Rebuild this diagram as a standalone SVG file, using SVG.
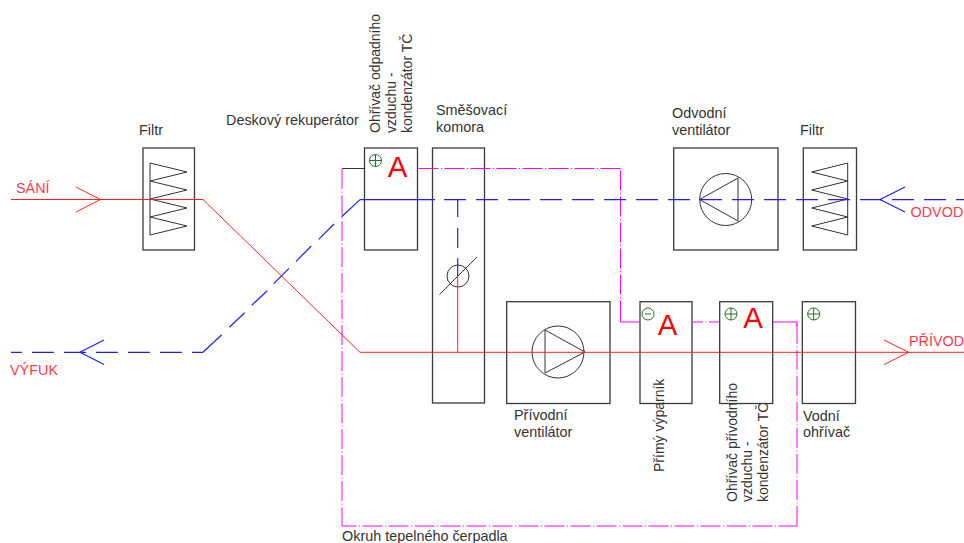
<svg xmlns="http://www.w3.org/2000/svg" width="964" height="543" viewBox="0 0 964 543">
<defs>
<style>
text{font-family:"Liberation Sans",Arial,sans-serif;font-size:14.4px;fill:#333}
.rot{font-size:14px}
.red{fill:#ff3a4a}
.big{font-size:29.5px;fill:#ff0000;text-anchor:middle}
.box{fill:#fff;stroke:#3a3a3a;stroke-width:1.3}
.ln{fill:none;stroke:#333;stroke-width:1}
.air{fill:none;stroke:#ff2020;stroke-width:1}
.ex{fill:none;stroke:#2020ff;stroke-width:1.2}
.dash{stroke-dasharray:22 10}
.hp{fill:none;stroke:#ff00ff;stroke-width:1}
.dd{stroke-dasharray:20 2.500 1 2.500}
.sym{fill:none;stroke:#2e6b2e;stroke-width:1}
</style>
<path id="zig" class="ln" d="M150 163V235L187 226L150 217L187 208L150 199L187 190L150 181L187 172Z"/>
</defs>
<g id="filtr-sani"><rect class="box" x="143" y="148" width="51.5" height="102"/><use href="#zig"/><text x="139" y="135">Filtr</text></g>
<g id="rekuperator"><text x="226" y="125">Deskový rekuperátor</text></g>
<g id="ohrivac-odpadni"><rect class="box" x="364.5" y="148" width="53" height="102"/><circle class="sym" cx="375.500" cy="160.500" r="6"/><path class="sym" d="M369.500 160.500h12M375.500 154.500v12"/><text class="big" x="397.500" y="177">A</text>
<text class="rot" transform="translate(380 133) rotate(-90)">Ohřívač odpadního</text><text class="rot" transform="translate(396 133) rotate(-90)">vzduchu -</text><text class="rot" transform="translate(411.500 133) rotate(-90)">kondenzátor TČ</text></g>
<g id="smesovaci-komora"><rect class="box" x="432.5" y="148" width="52" height="255"/><text x="436" y="115">Směšovací</text><text x="436" y="132">komora</text></g>
<g id="privodni-ventilator"><rect class="box" x="506.7" y="301.7" width="103.3" height="101.8"/><circle class="ln" cx="558" cy="352" r="26"/><path class="ln" d="M545 330L585 352L545 373Z"/><text x="514" y="420">Přívodní</text><text x="514" y="437">ventilátor</text></g>
<g id="odvodni-ventilator"><rect class="box" x="673.7" y="148" width="104.3" height="102"/><circle class="ln" cx="725.7" cy="199.5" r="26"/><path class="ln" d="M699.500 199.500L738 178V221Z"/><text x="672" y="118">Odvodní</text><text x="672" y="135">ventilátor</text></g>
<g id="filtr-odvod"><rect class="box" x="803.3" y="148" width="53.2" height="102"/><path class="ln" d="M847.700 163V235L811.700 226L847.700 217L811.700 208L847.700 199L811.700 190L847.700 181L811.700 172Z"/><text x="800" y="135">Filtr</text></g>
<g id="primy-vyparnik"><rect class="box" x="640" y="301.7" width="52" height="101.8"/><circle class="sym" cx="648" cy="314" r="6"/><path class="sym" d="M645 314h6"/><text class="big" x="667.500" y="335">A</text><text class="rot" transform="translate(664 472) rotate(-90)">Přímý výparník</text></g>
<g id="ohrivac-privodni"><rect class="box" x="719.7" y="301.7" width="53" height="101.8"/><circle class="sym" cx="731" cy="314" r="6"/><path class="sym" d="M725 314h12M731 308v12"/><text class="big" x="753" y="328">A</text>
<text class="rot" transform="translate(736.700 502) rotate(-90)">Ohřívač přívodního</text><text class="rot" transform="translate(752 502) rotate(-90)">vzduchu -</text><text class="rot" transform="translate(767.700 502) rotate(-90)">kondenzátor TČ</text></g>
<g id="vodni-ohrivac"><rect class="box" x="802.3" y="301.7" width="53.2" height="101.8"/><circle class="sym" cx="813.7" cy="314" r="6"/><path class="sym" d="M807.700 314h12M813.700 308v12"/><text x="803" y="421">Vodní</text><text x="803" y="437">ohřívač</text></g>
<g id="klapka"><circle class="ln" cx="458" cy="276" r="11"/><path class="ln" d="M439.500 294.500L477 257"/></g>
<g id="connectors">
<path class="hp dd" d="M620.500 168.500H417.500"/>
<path class="hp dd" stroke-dashoffset="24" d="M620.500 168.500V312"/>
<path class="hp" d="M620.500 312V322H640M772.700 322H797V326"/>
<path class="hp dd" stroke-dashoffset="9" d="M692 322H719.700"/>
<path class="hp dd" stroke-dashoffset="24.200" d="M797 322V526"/>
<path class="hp dd" stroke-dasharray="20.400 2.500 1 2.500" stroke-dashoffset="5.500" d="M342 526H797"/>
<path class="hp dd" stroke-dashoffset="25.300" d="M342 168.500V526"/>
<path class="ln" d="M342 168.500H364.500"/>
<path class="air" d="M11 199.500H203L360 352.300H964M76 187L100.500 199.500L76 212M884 340L908.700 352.300L884 364.500M457.700 352.300V276"/>
<path class="ex" d="M360 199.600H435M203 352.300L221.700 334.700M229.300 327.300L244.700 312.700M251.700 305.300L267.300 290.700M273.700 283.700L289 268.300M296 261.300L311.300 246M318.700 239.300L334 224M341.700 216.700L360 199.600"/>
<path class="ex dash" d="M444 199.600H964"/>
<path class="ex dash" stroke-dashoffset="11" d="M11 352.300H203"/>
<path class="ex" d="M457.700 199.500V217M457.700 228V248M457.700 258V276"/>
<path class="ex" d="M905 187L880 199.500L905 212M104 340L80 352.300L104 364.500"/>
</g>
<g id="labels">
<text class="red" x="16" y="193">SÁNÍ</text><text class="red" x="10" y="375">VÝFUK</text><text class="red" x="910.500" y="217">ODVOD</text><text class="red" x="909" y="346">PŘÍVOD</text>
<text x="342" y="541">Okruh tepelného čerpadla</text>
</g>
</svg>
